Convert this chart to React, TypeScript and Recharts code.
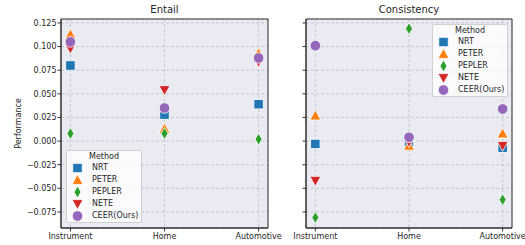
import React from "react";
import {
  CartesianGrid,
  ReferenceArea,
  Scatter,
  ScatterChart,
  XAxis,
  YAxis,
} from "recharts";

const categories = ["Instrument", "Home", "Automotive"];
const methods = ["NRT", "PETER", "PEPLER", "NETE", "CEER(Ours)"];
const colors = ["#1f77b4", "#ff7f0e", "#2ca02c", "#d62728", "#9467bd"];
const shapes = ["square", "triUp", "diamond", "triDown", "circle"];
const yTicks = [-0.075, -0.05, -0.025, 0, 0.025, 0.05, 0.075, 0.1, 0.125];

// Entail panel
const entailNRT = [0.080, 0.028, 0.039];
const entailPETER = [0.113, 0.013, 0.093];
const entailPEPLER = [0.008, 0.008, 0.002];
const entailNETE = [0.098, 0.054, 0.084];
const entailCEER = [0.105, 0.035, 0.088];

// Consistency panel
const consNRT = [-0.003, -0.002, -0.007];
const consPETER = [0.027, -0.005, 0.008];
const consPEPLER = [-0.081, 0.119, -0.062];
const consNETE = [-0.042, -0.001, -0.005];
const consCEER = [0.101, 0.004, 0.034];

const entail = [entailNRT, entailPETER, entailPEPLER, entailNETE, entailCEER];
const consistency = [consNRT, consPETER, consPEPLER, consNETE, consCEER];

const Y_DOMAIN: [number, number] = [-0.092, 0.1292];
const X_DOMAIN: [number, number] = [-0.1, 2.1];
const FONT = "'DejaVu Sans', sans-serif";
const TXT = "#262626";

function Marker({ kind, cx, cy, color, s = 1 }: any) {
  const st = { fill: color, stroke: "#fff", strokeWidth: 0.8 };
  if (kind === "square") {
    const h = 4.7 * s;
    return <rect x={cx - h} y={cy - h} width={2 * h} height={2 * h} {...st} />;
  }
  if (kind === "triUp") {
    const h = 5.5 * s;
    return <polygon points={`${cx},${cy - h} ${cx + h},${cy + h * 0.8} ${cx - h},${cy + h * 0.8}`} {...st} />;
  }
  if (kind === "triDown") {
    const h = 5.5 * s;
    return <polygon points={`${cx},${cy + h} ${cx + h},${cy - h * 0.8} ${cx - h},${cy - h * 0.8}`} {...st} />;
  }
  if (kind === "diamond") {
    const w = 3.5 * s;
    const h = 6 * s;
    return <polygon points={`${cx},${cy - h} ${cx + w},${cy} ${cx},${cy + h} ${cx - w},${cy}`} {...st} />;
  }
  return <circle cx={cx} cy={cy} r={5.3 * s} {...st} />;
}

const fmt = (v: number) => (v < 0 ? "\u2212" + Math.abs(v).toFixed(3) : v.toFixed(3));

function Panel({ series, showLabels }: { series: number[][]; showLabels: boolean }) {
  // left panel is wider so its last category label can spill past the plot edge
  const w = showLabels ? 300 : 255;
  return (
    <ScatterChart
      width={w}
      height={245}
      margin={{ top: 19, right: showLabels ? 32 : 13, bottom: 0, left: 0 }}
    >
      <CartesianGrid fill="#eaeaf2" stroke="#bfbfc6" strokeDasharray="3 2" strokeWidth={0.8} />
      <XAxis
        type="number"
        dataKey="x"
        domain={X_DOMAIN}
        ticks={[0, 1, 2]}
        allowDataOverflow
        height={17}
        tickSize={3.5}
        tickMargin={2}
        tickFormatter={(i: number) => categories[i]}
        tick={{ fontSize: 8, fill: TXT, fontFamily: FONT }}
        axisLine={{ stroke: "#333" }}
        tickLine={{ stroke: "#333" }}
        interval={0}
      />
      <YAxis
        type="number"
        dataKey="y"
        domain={Y_DOMAIN}
        ticks={yTicks}
        allowDataOverflow
        width={showLabels ? 61 : 36}
        tickSize={3.5}
        tickMargin={1}
        tickFormatter={showLabels ? fmt : () => ""}
        tick={{ fontSize: 8, fill: TXT, fontFamily: FONT }}
        axisLine={{ stroke: "#333" }}
        tickLine={{ stroke: "#333" }}
        interval={0}
        label={
          showLabels
            ? {
                value: "Performance",
                angle: -90,
                position: "insideLeft",
                offset: 18,
                style: { fontSize: 8, fill: TXT, fontFamily: FONT, textAnchor: "middle" },
              }
            : undefined
        }
      />
      <ReferenceArea
        x1={X_DOMAIN[0]}
        x2={X_DOMAIN[1]}
        y1={Y_DOMAIN[0]}
        y2={Y_DOMAIN[1]}
        fill="none"
        stroke="#333"
        strokeWidth={1}
      />
      {series.map((vals, k) => (
        <Scatter
          key={methods[k]}
          name={methods[k]}
          data={vals.map((y, i) => ({ x: i, y }))}
          isAnimationActive={false}
          shape={(p: any) => <Marker kind={shapes[k]} cx={p.cx} cy={p.cy} color={colors[k]} />}
        />
      ))}
    </ScatterChart>
  );
}

function LegendBox({ left, top }: { left: number; top: number }) {
  return (
    <div
      style={{
        position: "absolute",
        left,
        top,
        width: 76,
        height: 73,
        background: "rgba(255,255,255,0.8)",
        border: "1px solid #d0d0d0",
        borderRadius: 2,
        boxSizing: "border-box",
        fontFamily: FONT,
        fontSize: 8,
        color: TXT,
      }}
    >
      <div style={{ textAlign: "center", lineHeight: "10px", marginTop: 1 }}>Method</div>
      {methods.map((m, k) => (
        <div key={m} style={{ display: "flex", alignItems: "center", height: 12 }}>
          <svg width={22} height={12} style={{ flex: "none" }}>
            <Marker kind={shapes[k]} cx={10.5} cy={6} color={colors[k]} s={1} />
          </svg>
          <span style={{ marginLeft: 3, lineHeight: "12px" }}>{m}</span>
        </div>
      ))}
    </div>
  );
}

export default function App() {
  return (
    <div style={{ position: "absolute", left: 0, top: 0, width: 525, height: 245, background: "#fff" }}>
      <div style={{ position: "absolute", left: 0, top: 0 }}>
        <Panel series={entail} showLabels />
      </div>
      <div style={{ position: "absolute", left: 270, top: 0 }}>
        <Panel series={consistency} showLabels={false} />
      </div>
      <div style={{ position: "absolute", left: 61, width: 207, top: 4, textAlign: "center", fontFamily: FONT, fontSize: 10, color: TXT }}>
        Entail
      </div>
      <div style={{ position: "absolute", left: 306, width: 206, top: 4, textAlign: "center", fontFamily: FONT, fontSize: 10, color: TXT }}>
        Consistency
      </div>
      <LegendBox left={66} top={150} />
      <LegendBox left={432} top={24} />
    </div>
  );
}
